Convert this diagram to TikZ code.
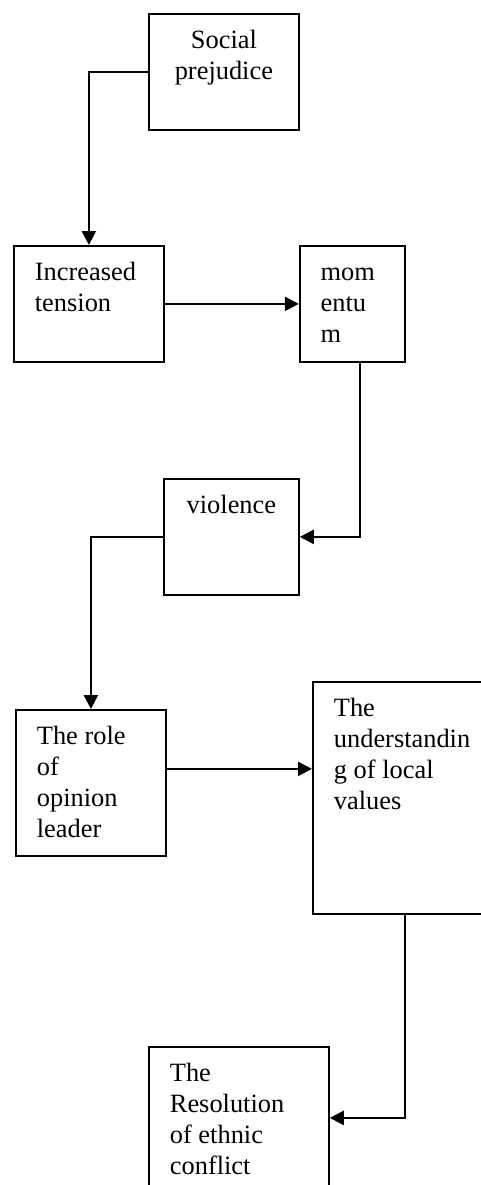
\documentclass[tikz,border=0pt]{standalone}
\usepackage{fontspec}
\setmainfont{Liberation Serif}
\usetikzlibrary{arrows.meta, positioning}

% testo in alto nel riquadro (sinistra / centrato)
\newcommand{\lcell}[3]{\parbox[t][#2][t]{#1}{\raggedright\strut #3}}
\newcommand{\ccell}[3]{\parbox[t][#2][t]{#1}{\centering\strut #3}}

\begin{document}
\begin{tikzpicture}[
    x=0.5pt, y=-0.5pt,
    % Stili dei nodi
    box/.style={rectangle, draw=black, line width=0.9pt, anchor=north west, inner xsep=10.5pt, inner ysep=6.7pt, font=\fontsize{13.2pt}{15.4pt}\selectfont},
    arrow/.style={-{Triangle[length=7pt,width=7pt]}, line width=1.2pt}
]
    \useasboundingbox (0,0) rectangle (481,1185);
    \clip (0,0) rectangle (481,1185);

    % ==================== PARTE ALTA ====================
    \node [box] (prejudice) at (148,13) {\ccell{54pt}{44.6pt}{Social\\prejudice}};
    \node [box] (tension) at (13,245) {\lcell{54pt}{44.6pt}{Increased\\tension}};
    \node [box, right=67pt of tension] (momentum) {\lcell{31.5pt}{44.6pt}{mom\\entu\\m}};
    \node [box] (violence) at (163,478) {\ccell{46.5pt}{44.6pt}{violence}};

    % Connessioni parte alta
    \draw [arrow] (prejudice.west) -| (tension.north);
    \draw [arrow] (tension) -- (momentum);
    \coordinate (mom_out) at ([xshift=3.75pt]momentum.south);
    \draw [arrow] (mom_out) |- (violence.east);

    % ==================== PARTE BASSA ====================
    \node [box] (leader) at (15,709) {\lcell{54pt}{59.6pt}{The role\\of\\opinion\\leader}};
    \node [box] (values) at (312,681) {\lcell{71pt}{102.6pt}{The\\understandin\\g of local\\values}};
    \node [box] (resolution) at (148,1046) {\lcell{69pt}{57.6pt}{The\\Resolution\\of ethnic\\conflict}};

    % Connessioni parte bassa
    \draw [arrow] (violence.west) -| (leader.north);
    \coordinate (leader_out) at ([yshift=7pt]leader.east);
    \draw [arrow] (leader_out) -- (leader_out -| values.west);
    \draw [arrow] (values.south) |- (resolution.east);

\end{tikzpicture}
\end{document}
